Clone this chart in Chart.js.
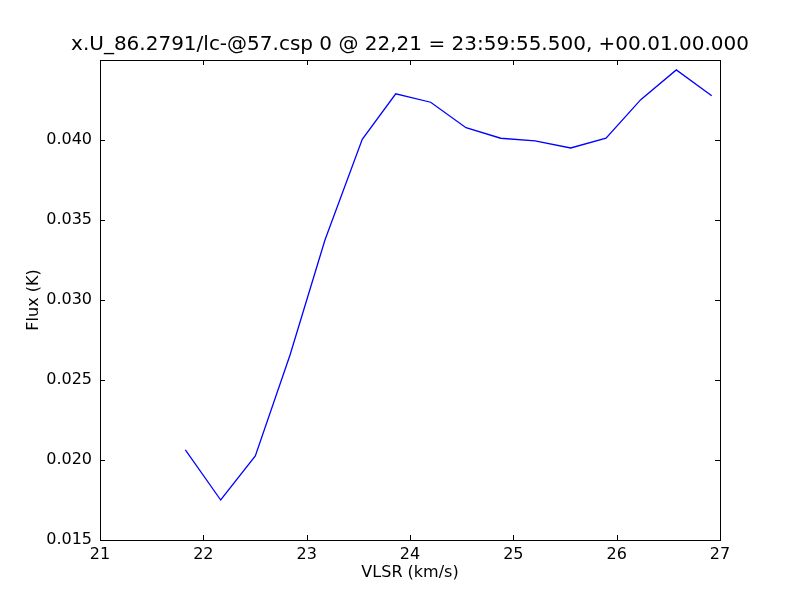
<!DOCTYPE html>
<html>
<head>
<meta charset="utf-8">
<script src="https://cdn.jsdelivr.net/npm/chart.js@4"></script>
<style>
    body { margin: 0; background: #fff; }
    canvas { display: block; }
</style>
</head>
<body>
<canvas id="spectrumChart" width="800" height="600"></canvas>
<script>
// Spectrum values
const vlsr = [21.826, 22.168, 22.503, 22.839, 23.177, 23.538, 23.862, 24.200,
              24.542, 24.878, 25.210, 25.555, 25.897, 26.233, 26.577, 26.920];
const flux = [0.02063, 0.01750, 0.02025, 0.02656, 0.03375, 0.04004, 0.04289, 0.04236,
              0.04077, 0.04011, 0.03994, 0.03950, 0.04011, 0.04252, 0.04438, 0.04277];

const xTicks = [21, 22, 23, 24, 25, 26, 27];
const yTicks = [0.015, 0.020, 0.025, 0.030, 0.035, 0.040, 0.045];

const titleText = 'x.U_86.2791/lc-@57.csp 0 @ 22,21 = 23:59:55.500, +00.01.00.000';
const fontFamily = '"DejaVu Sans", sans-serif';

// frame + inward ticks on all four sides, matplotlib style
const framePlugin = {
    id: 'frame',
    afterDraw(chart) {
        const { ctx, chartArea: a, scales } = chart;
        const len = 5;
        ctx.save();
        ctx.strokeStyle = '#000';
        ctx.lineWidth = 1;
        ctx.beginPath();
        xTicks.forEach(v => {
            const px = Math.round(scales.x.getPixelForValue(v)) + 0.5;
            ctx.moveTo(px, a.bottom); ctx.lineTo(px, a.bottom - len);
            ctx.moveTo(px, a.top); ctx.lineTo(px, a.top + len);
        });
        yTicks.forEach(v => {
            const py = Math.round(scales.y.getPixelForValue(v)) + 0.5;
            ctx.moveTo(a.left, py); ctx.lineTo(a.left + len, py);
            ctx.moveTo(a.right, py); ctx.lineTo(a.right - len, py);
        });
        ctx.stroke();
        ctx.strokeRect(Math.round(a.left) + 0.5, Math.round(a.top) + 0.5,
                       Math.round(a.right - a.left), Math.round(a.bottom - a.top));
        ctx.restore();
    }
};

const ctx = document.getElementById('spectrumChart').getContext('2d');
new Chart(ctx, {
    type: 'line',
    data: {
        datasets: [{
            data: vlsr.map((v, i) => ({ x: v, y: flux[i] })),
            borderColor: '#0000ff',
            borderWidth: 1.3,
            pointRadius: 0,
            tension: 0,
            fill: false
        }]
    },
    options: {
        responsive: false,
        animation: false,
        // left padding so the title centres over the axes like matplotlib
        layout: { padding: { left: 20, right: 0 } },
        plugins: {
            legend: { display: false },
            tooltip: { enabled: false },
            title: {
                display: true,
                text: titleText,
                color: '#000',
                font: { family: fontFamily, size: 20, weight: 'normal', lineHeight: 1.2 },
                padding: { top: 33, bottom: 3 }
            }
        },
        scales: {
            x: {
                type: 'linear',
                min: 21,
                max: 27,
                afterBuildTicks: scale => { scale.ticks = xTicks.map(v => ({ value: v })); },
                afterFit: scale => { scale.height = 60; },
                grid: { display: false, drawTicks: false },
                border: { display: false },
                ticks: {
                    color: '#000',
                    padding: 5,
                    maxRotation: 0,
                    font: { family: fontFamily, size: 16 },
                    callback: v => String(v)
                },
                title: {
                    display: true,
                    text: 'VLSR (km/s)',
                    color: '#000',
                    font: { family: fontFamily, size: 16, lineHeight: 1.2 },
                    padding: { top: 0, bottom: 18 }
                }
            },
            y: {
                type: 'linear',
                min: 0.015,
                max: 0.045,
                afterBuildTicks: scale => { scale.ticks = yTicks.map(v => ({ value: v })); },
                afterFit: scale => { scale.width = 80; },
                grid: { display: false, drawTicks: false },
                border: { display: false },
                ticks: {
                    color: '#000',
                    padding: 8,
                    font: { family: fontFamily, size: 16 },
                    callback: v => (Math.abs(v - 0.045) < 1e-9 ? '' : v.toFixed(3))
                },
                title: {
                    display: true,
                    text: 'Flux (K)',
                    color: '#000',
                    font: { family: fontFamily, size: 16, lineHeight: 1.2 },
                    padding: { top: 4, bottom: 0 }
                }
            },
            yRight: {
                type: 'linear',
                position: 'right',
                min: 0.015,
                max: 0.045,
                afterFit: scale => { scale.width = 80; },
                grid: { display: false, drawTicks: false },
                border: { display: false },
                ticks: { display: false }
            }
        }
    },
    plugins: [framePlugin]
});
</script>
</body>
</html>
